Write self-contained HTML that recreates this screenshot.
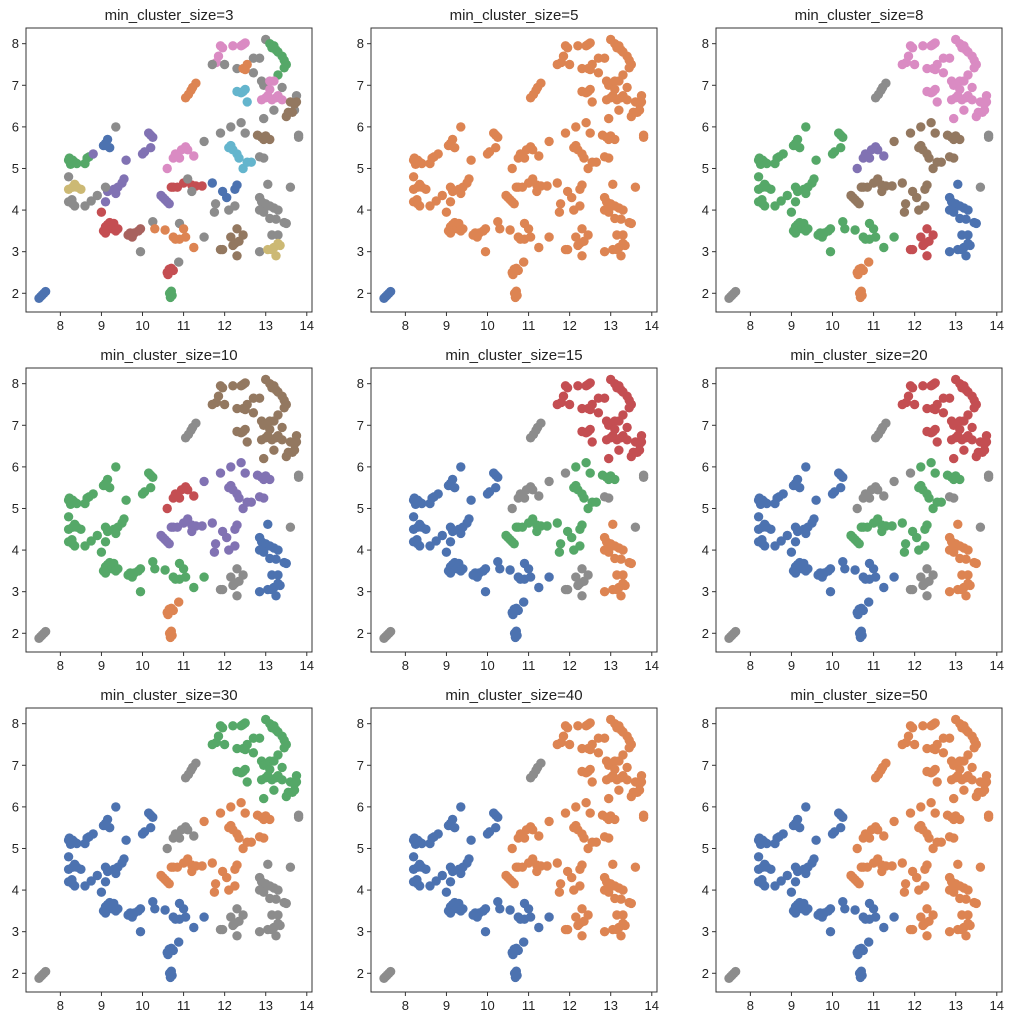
<!DOCTYPE html>
<html><head><meta charset="utf-8"><style>
html,body{margin:0;padding:0;background:#fff;}
svg{display:block;font-family:"Liberation Sans","DejaVu Sans",sans-serif;}
</style></head>
<body>
<svg id="chart" width="1010" height="1024" viewBox="0 0 1010 1024" xmlns="http://www.w3.org/2000/svg"></svg>
<script>
const titles = ["min_cluster_size=3","min_cluster_size=5","min_cluster_size=8","min_cluster_size=10","min_cluster_size=15","min_cluster_size=20","min_cluster_size=30","min_cluster_size=40","min_cluster_size=50"];
const xTicks = [8,9,10,11,12,13,14];
const yTicks = [2,3,4,5,6,7,8];
const pts = [
[7.48,1.88,"tail"],[7.52,1.92,"tail"],[7.56,1.96,"tail"],[7.6,2.0,"tail"],[7.64,2.04,"tail"],
[10.68,1.9,"B"],[10.72,1.95,"B"],[10.7,2.05,"B"],[10.66,2.0,"B"],
[10.6,2.5,"C"],[10.65,2.58,"C"],[10.7,2.6,"C"],[10.62,2.45,"C"],[10.75,2.55,"C"],[10.88,2.75,"Cg"],
[8.2,5.2,"D"],[8.25,5.1,"D"],[8.3,5.2,"D"],[8.35,5.15,"D"],[8.4,5.12,"D"],[8.6,5.12,"D"],[8.7,5.28,"D"],[8.65,5.25,"D"],[8.22,5.25,"D"],[8.8,5.35,"Dp"],
[9.05,5.55,"E"],[9.1,5.6,"E"],[9.15,5.7,"E"],[9.2,5.5,"E"],[9.12,5.55,"E"],
[9.35,6.0,"F"],
[9.15,4.45,"G"],[9.1,4.2,"G"],[9.3,4.5,"G"],[9.4,4.55,"G"],[9.5,4.65,"G"],[9.55,4.75,"G"],[9.35,4.4,"G"],[9.6,5.2,"G"],
[10.0,5.35,"GR"],[10.05,5.4,"GR"],[10.2,5.5,"GR"],[10.2,5.8,"GR"],[10.25,5.75,"GR"],[10.15,5.85,"GR"],
[8.2,4.5,"H"],[8.3,4.55,"H"],[8.35,4.62,"H"],[8.4,4.55,"H"],[8.5,4.5,"H"],
[8.2,4.8,"I"],[8.2,4.2,"I"],[8.3,4.15,"I"],[8.35,4.1,"I"],[8.6,4.1,"I"],[8.75,4.22,"I"],[8.9,4.35,"I"],[9.1,4.55,"I"],[8.28,4.25,"I"],
[9.0,3.95,"J"],[9.05,3.5,"J"],[9.1,3.6,"J"],[9.15,3.65,"J"],[9.2,3.7,"J"],[9.25,3.55,"J"],[9.3,3.68,"J"],[9.4,3.55,"J"],[9.35,3.5,"J"],[9.1,3.45,"J"],
[9.65,3.4,"K"],[9.75,3.35,"K"],[9.8,3.45,"K"],[9.9,3.5,"K"],[9.95,3.55,"K"],[9.7,3.45,"K"],
[9.95,3.0,"L"],[10.25,3.72,"L"],[10.9,3.68,"L"],
[10.3,3.55,"M"],[10.55,3.52,"M"],[10.75,3.35,"M"],[10.8,3.3,"M"],[10.9,3.3,"M"],[11.0,3.55,"M"],[11.05,3.35,"M"],[11.25,3.1,"M"],[11.5,3.35,"Mg"],
[10.45,4.35,"O"],[10.5,4.3,"O"],[10.55,4.25,"O"],[10.6,4.2,"O"],[10.65,4.15,"O"],
[10.75,4.55,"P"],[10.85,4.55,"P"],[11.0,4.65,"P"],[11.2,4.6,"P"],[11.3,4.58,"P"],[11.45,4.58,"P"],[10.7,4.55,"P"],[11.1,4.75,"Pg"],[11.2,4.45,"Pg"],
[10.6,5.0,"Q"],[10.75,5.25,"Q"],[10.8,5.35,"Q"],[10.9,5.25,"Q"],[10.95,5.45,"Q"],[11.05,5.52,"Q"],[11.1,5.45,"Q"],[11.25,5.3,"Q"],
[11.05,6.7,"R"],[11.12,6.78,"R"],[11.18,6.88,"R"],[11.22,6.95,"R"],[11.3,7.05,"R"],
[11.5,5.65,"S0"],[11.9,5.85,"S0"],[12.15,6.0,"S"],[12.4,6.1,"S"],[12.5,5.85,"S"],
[11.75,3.95,"S2"],[11.78,4.15,"S2"],[12.1,4.0,"S2"],[12.25,4.1,"S2"],
[11.7,4.65,"T"],[11.95,4.45,"T"],[12.05,4.3,"T"],[12.25,4.5,"T"],[12.3,4.6,"T"],
[12.1,5.5,"U"],[12.2,5.45,"U"],[12.3,5.35,"U"],[12.35,5.25,"U"],[12.45,5.0,"U"],[12.55,5.15,"U"],[12.65,5.15,"U"],[12.15,5.55,"U"],
[11.9,3.05,"V"],[11.95,3.05,"V"],[12.15,3.35,"V"],[12.2,3.15,"V"],[12.25,3.2,"V"],[12.3,3.55,"V"],[12.35,3.25,"V"],[12.45,3.4,"V"],[12.3,2.9,"V"],
[12.85,4.3,"W"],[12.9,4.2,"W"],[13.0,4.15,"W"],[13.1,4.1,"W"],[13.2,4.05,"W"],[13.3,4.0,"W"],[12.85,4.0,"W"],[12.95,3.95,"W"],[13.1,3.8,"W"],[13.25,3.78,"W"],[13.45,3.7,"W"],[13.5,3.68,"W"],[13.05,4.62,"W"],[12.85,3.0,"W"],[13.3,3.4,"W"],[13.15,3.4,"W"],[13.6,4.55,"RG"],
[13.05,3.05,"X"],[13.15,3.05,"X"],[13.2,3.1,"X"],[13.3,3.2,"X"],[13.25,2.9,"X"],[13.35,3.15,"X"],
[12.8,5.8,"Y"],[12.9,5.75,"Y"],[12.95,5.7,"Y"],[13.0,5.78,"Y"],[13.1,5.7,"Y"],[12.95,5.25,"Yg"],[12.85,5.28,"Yg"],
[12.3,6.85,"Z"],[12.4,6.82,"Z"],[12.5,6.9,"Z"],[12.45,6.85,"Z"],[12.55,6.6,"Z"],
[11.8,7.55,"AA"],[11.85,7.7,"AA"],[11.9,7.95,"AA"],[11.95,7.9,"AA"],[12.2,7.95,"AA"],[12.4,7.95,"AA"],[12.5,8.02,"AA"],[12.45,7.98,"AA"],
[11.7,7.5,"ABg"],[12.0,7.5,"ABg"],[12.3,7.4,"ABg"],[12.7,7.3,"ABg"],[12.7,7.65,"ABg"],[12.85,7.65,"ABg"],[12.9,7.1,"ABg"],[12.95,7.0,"ABg"],[12.95,6.2,"ABg"],[13.2,6.4,"ABg"],[13.4,6.95,"ABg"],[13.7,6.4,"ABg"],[13.75,6.75,"ABg"],[13.0,8.1,"ABg"],
[13.8,5.8,"RG"],[13.8,5.75,"RG"],
[12.45,7.4,"AC"],[12.55,7.5,"AC"],[12.5,7.38,"AC"],
[13.1,8.0,"AD"],[13.15,7.9,"AD"],[13.25,7.85,"AD"],[13.3,7.8,"AD"],[13.4,7.7,"AD"],[13.45,7.6,"AD"],[13.5,7.5,"AD"],[13.45,7.42,"AD"],[13.3,7.25,"AD"],[13.2,7.95,"AD"],
[12.9,6.65,"AE"],[13.0,6.7,"AE"],[13.1,6.9,"AE"],[13.1,7.1,"AE"],[13.2,7.1,"AE"],[13.25,6.7,"AE"],[13.3,6.75,"AE"],[13.4,6.65,"AE"],[13.15,6.65,"AE"],[13.05,6.75,"AE"],
[13.5,6.25,"AF"],[13.55,6.35,"AF"],[13.6,6.6,"AF"],[13.7,6.55,"AF"],[13.75,6.6,"AF"],[13.65,6.35,"AF"]
];
const palette = {b:"#4c72b0",o:"#dd8452",g:"#55a868",r:"#c44e52",p:"#8172b3",n:"#937860",k:"#da8bc3",x:"#8c8c8c",y:"#ccb974",c:"#64b5cd",m:"#a8625e"};
const leftR = ["B","C","Cg","D","Dp","E","F","G","GR","H","I","J","K","L","M","Mg"];
const topR = ["Z","AA","ABg","AC","AD","AE","AF"];
function mk(pairs){const m={};pairs.forEach(([list,c])=>list.forEach(r=>m[r]=c));return m;}
const maps = [
 mk([[["tail","E","T"],"b"],[["B","D","AD"],"g"],[["C","J","P"],"r"],[["Dp","G","GR","O"],"p"],[["H","X"],"y"],[["K"],"m"],[["M","R","AC"],"o"],[["Q","AA","AE"],"k"],[["U","Z"],"c"],[["V","Y","AF"],"n"]]),
 mk([[["tail"],"b"],[leftR.concat(["O","P","Pg","Q","R","S0","S","S2","T","U","V","W","RG","X","Y","Yg"],topR),"o"]]),
 mk([[["B","C","Cg"],"o"],[leftR.slice(3),"g"],[["O","P","Pg","S","S2","T","U","Y","Yg","S0"],"n"],[["Q"],"p"],[["V"],"r"],[["W","X"],"b"],[topR,"k"]]),
 mk([[["B","C","Cg"],"o"],[leftR.slice(3),"g"],[["O","P","Pg","S","S2","T","U","Y","Yg","S0"],"p"],[["Q"],"r"],[["W","X"],"b"],[topR,"n"]]),
 mk([[leftR,"b"],[["O","P","Pg","S","S2","T","U","Y"],"g"],[["W","X"],"o"],[topR,"r"]]),
 mk([[leftR,"b"],[["O","P","Pg","S","S2","T","U","Y"],"g"],[["W","X"],"o"],[topR,"r"]]),
 mk([[leftR,"b"],[["O","P","Pg","S","S0","S2","T","U","Y","Yg"],"o"],[topR,"g"]]),
 mk([[leftR,"b"],[["O","P","Pg","Q","S0","S","S2","T","U","V","W","RG","X","Y","Yg"].concat(topR),"o"]]),
 mk([[leftR,"b"],[["O","P","Pg","Q","R","S0","S","S2","T","U","V","W","RG","X","Y","Yg"].concat(topR),"o"]])
];
const NS="http://www.w3.org/2000/svg";
const svg=document.getElementById("chart");
const colL=[26,371,716], rowT=[28,368,708], W=286, H=284;
const xMin=7.163,xMax=14.127,yMin=1.55,yMax=8.377;
function el(t,a,p){const e=document.createElementNS(NS,t);for(const k in a)e.setAttribute(k,a[k]);(p||svg).appendChild(e);return e;}
titles.forEach((t,i)=>{
  const L=colL[i%3],T=rowT[Math.floor(i/3)];
  const sx=v=>L+(v-xMin)/(xMax-xMin)*W, sy=v=>T+H-(v-yMin)/(yMax-yMin)*H;
  const g=el("g",{});
  
  
  const tt=el("text",{x:L+W/2,y:T-8,"text-anchor":"middle","font-size":"15",fill:"#222"},g);
  tt.textContent=t;
  
  
  const m=maps[i];
  const pg=el("g",{},g);
  
  
  pts.forEach(p=>{
    const c=el("circle",{cx:sx(p[0]).toFixed(1),cy:sy(p[1]).toFixed(1),r:4.7,fill:palette[m[p[2]]||"x"]},pg);
    
    
  });
  const fr=el("rect",{x:L,y:T,width:W,height:H,fill:"none",stroke:"#333","stroke-width":1},g);
  
  
  xTicks.forEach(v=>{
    const X=sx(v);
    el("line",{x1:X,x2:X,y1:T+H,y2:T+H+4,stroke:"#333"},g);
    const tx=el("text",{x:X,y:T+H+18,"text-anchor":"middle","font-size":"13",fill:"#222"},g);
    tx.textContent=v;
    
    
  });
  yTicks.forEach(v=>{
    const Y=sy(v);
    el("line",{x1:L-4,x2:L,y1:Y,y2:Y,stroke:"#333"},g);
    const ty=el("text",{x:L-7,y:Y+4.5,"text-anchor":"end","font-size":"13",fill:"#222"},g);
    ty.textContent=v;
    
    
  });
});
</script>
</body></html>
